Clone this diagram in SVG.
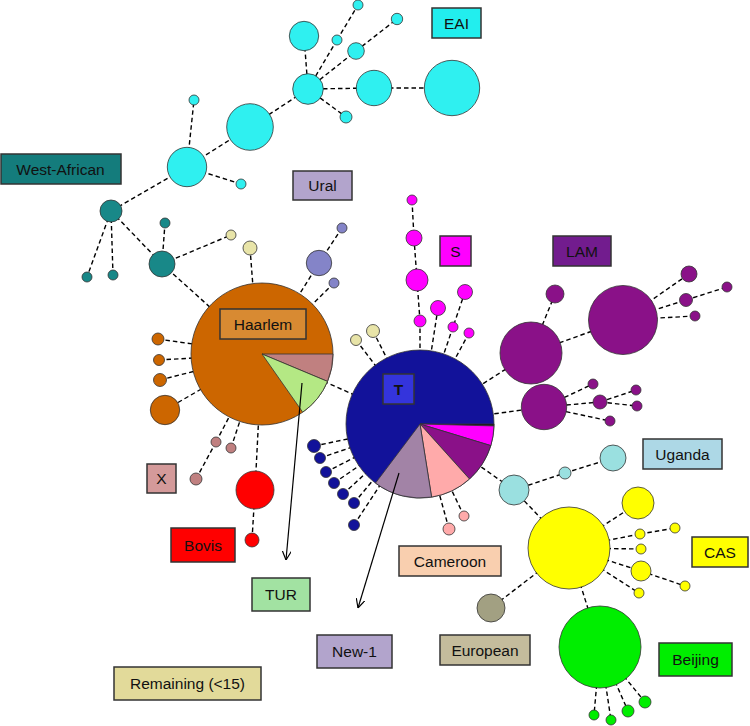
<svg xmlns="http://www.w3.org/2000/svg" width="750" height="726" viewBox="0 0 750 726">
<defs>
<marker id="arr" viewBox="0 0 10 10" refX="10" refY="5" markerWidth="9" markerHeight="9" orient="auto" markerUnits="userSpaceOnUse">
<path d="M0,0 L10,5 L0,10" fill="none" stroke="#000" stroke-width="1.3"/>
</marker>
</defs>
<style>
.e{stroke:#000;stroke-width:1.4;stroke-dasharray:4.5 3;fill:none}
.a{stroke:#000;stroke-width:1.2;fill:none;marker-end:url(#arr)}
circle,.sl{stroke:#333;stroke-width:0.8}
.lb rect{stroke:#333;stroke-width:1.5}
.lb text{font-family:"Liberation Sans",Arial,sans-serif;font-size:15.5px;text-anchor:middle;fill:#111}
.cy{fill:#2ff0f0}.tl{fill:#188888}.or{fill:#cc6600}.xp{fill:#c08080}.tu{fill:#b4e884}
.rd{fill:#ff0000}.nv{fill:#12129a}.nw{fill:#a283a6}.cm{fill:#ffaaaa}.lm{fill:#8a1188}
.mg{fill:#ff00ff}.ug{fill:#9ae0e0}.ye{fill:#ffff00}.gr{fill:#00ee00}.eu{fill:#a2a082}
.rm{fill:#e8e4a8}.ur{fill:#8484c8}
</style>
<rect width="750" height="726" fill="#fff"/>
<g id="connectors">
<line class="e" x1="187" y1="167" x2="250" y2="127"/>
<line class="e" x1="250" y1="127" x2="308" y2="89"/>
<line class="e" x1="308" y1="89" x2="304" y2="36"/>
<line class="e" x1="308" y1="89" x2="337" y2="40"/>
<line class="e" x1="337" y1="40" x2="358" y2="5"/>
<line class="e" x1="308" y1="89" x2="356" y2="51"/>
<line class="e" x1="356" y1="51" x2="397" y2="19"/>
<line class="e" x1="308" y1="89" x2="374" y2="88"/>
<line class="e" x1="374" y1="88" x2="452" y2="88"/>
<line class="e" x1="308" y1="89" x2="346" y2="117"/>
<line class="e" x1="187" y1="167" x2="194" y2="100"/>
<line class="e" x1="187" y1="167" x2="241" y2="184"/>
<line class="e" x1="187" y1="167" x2="111" y2="211"/>
<line class="e" x1="111" y1="211" x2="87" y2="277"/>
<line class="e" x1="111" y1="211" x2="113" y2="275"/>
<line class="e" x1="111" y1="211" x2="162" y2="264"/>
<line class="e" x1="162" y1="264" x2="165" y2="223"/>
<line class="e" x1="162" y1="264" x2="231" y2="235"/>
<line class="e" x1="162" y1="264" x2="262" y2="354"/>
<line class="e" x1="250" y1="248" x2="254" y2="300"/>
<line class="e" x1="319" y1="263" x2="342" y2="228"/>
<line class="e" x1="319" y1="263" x2="262" y2="354"/>
<line class="e" x1="334" y1="283" x2="262" y2="354"/>
<line class="e" x1="158" y1="339" x2="262" y2="354"/>
<line class="e" x1="159" y1="360" x2="262" y2="354"/>
<line class="e" x1="160" y1="380" x2="262" y2="354"/>
<line class="e" x1="165" y1="410" x2="262" y2="354"/>
<line class="e" x1="216" y1="442" x2="196" y2="479"/>
<line class="e" x1="216" y1="442" x2="262" y2="354"/>
<line class="e" x1="231" y1="448" x2="262" y2="354"/>
<line class="e" x1="255" y1="490" x2="262" y2="354"/>
<line class="e" x1="255" y1="490" x2="252" y2="540"/>
<line class="e" x1="262" y1="354" x2="420" y2="424"/>
<line class="e" x1="356" y1="340" x2="420" y2="424"/>
<line class="e" x1="373" y1="331" x2="420" y2="424"/>
<line class="e" x1="412" y1="200" x2="414" y2="238"/>
<line class="e" x1="414" y1="238" x2="417" y2="280"/>
<line class="e" x1="417" y1="280" x2="420" y2="321"/>
<line class="e" x1="420" y1="321" x2="420" y2="424"/>
<line class="e" x1="438" y1="308" x2="420" y2="424"/>
<line class="e" x1="465" y1="292" x2="453" y2="327"/>
<line class="e" x1="453" y1="327" x2="420" y2="424"/>
<line class="e" x1="469" y1="333" x2="420" y2="424"/>
<line class="e" x1="420" y1="424" x2="531" y2="353"/>
<line class="e" x1="531" y1="353" x2="555" y2="294"/>
<line class="e" x1="531" y1="353" x2="623" y2="320"/>
<line class="e" x1="623" y1="320" x2="689" y2="274"/>
<line class="e" x1="623" y1="320" x2="686" y2="300"/>
<line class="e" x1="686" y1="300" x2="727" y2="287"/>
<line class="e" x1="623" y1="320" x2="695" y2="316"/>
<line class="e" x1="420" y1="424" x2="544" y2="407"/>
<line class="e" x1="544" y1="407" x2="593" y2="384"/>
<line class="e" x1="544" y1="407" x2="600" y2="402"/>
<line class="e" x1="600" y1="402" x2="636" y2="390"/>
<line class="e" x1="600" y1="402" x2="637" y2="406"/>
<line class="e" x1="544" y1="407" x2="610" y2="421"/>
<line class="e" x1="420" y1="424" x2="514" y2="490"/>
<line class="e" x1="514" y1="490" x2="565" y2="473"/>
<line class="e" x1="565" y1="473" x2="613" y2="458"/>
<line class="e" x1="514" y1="490" x2="569" y2="548"/>
<line class="e" x1="569" y1="548" x2="638" y2="503"/>
<line class="e" x1="569" y1="548" x2="640" y2="534"/>
<line class="e" x1="640" y1="534" x2="675" y2="528"/>
<line class="e" x1="569" y1="548" x2="641" y2="549"/>
<line class="e" x1="569" y1="548" x2="641" y2="571"/>
<line class="e" x1="641" y1="571" x2="685" y2="586"/>
<line class="e" x1="569" y1="548" x2="639" y2="593"/>
<line class="e" x1="569" y1="548" x2="491" y2="608"/>
<line class="e" x1="569" y1="548" x2="600" y2="647"/>
<line class="e" x1="600" y1="647" x2="594" y2="715"/>
<line class="e" x1="600" y1="647" x2="611" y2="720"/>
<line class="e" x1="600" y1="647" x2="628" y2="711"/>
<line class="e" x1="600" y1="647" x2="645" y2="702"/>
<line class="e" x1="314" y1="446" x2="420" y2="424"/>
<line class="e" x1="320" y1="458" x2="420" y2="424"/>
<line class="e" x1="326" y1="472" x2="420" y2="424"/>
<line class="e" x1="334" y1="483" x2="420" y2="424"/>
<line class="e" x1="343" y1="494" x2="420" y2="424"/>
<line class="e" x1="354" y1="503" x2="420" y2="424"/>
<line class="e" x1="354" y1="525" x2="420" y2="424"/>
<line class="e" x1="449" y1="529" x2="420" y2="424"/>
<line class="e" x1="464" y1="516" x2="420" y2="424"/>
</g>
<g id="eai">
<circle class="cy" cx="358" cy="5" r="5"/>
<circle class="cy" cx="397" cy="19" r="5.7"/>
<circle class="cy" cx="304" cy="36" r="14.7"/>
<circle class="cy" cx="337" cy="40" r="5"/>
<circle class="cy" cx="356" cy="51" r="8.3"/>
<circle class="cy" cx="308" cy="89" r="15.3"/>
<circle class="cy" cx="374" cy="88" r="17.7"/>
<circle class="cy" cx="452" cy="88" r="27.7"/>
<circle class="cy" cx="346" cy="117" r="6"/>
<circle class="cy" cx="250" cy="127" r="23.3"/>
<circle class="cy" cx="194" cy="100" r="5"/>
<circle class="cy" cx="187" cy="167" r="19.7"/>
<circle class="cy" cx="241" cy="184" r="5"/>
</g>
<g id="west-african">
<circle class="tl" cx="111" cy="211" r="11"/>
<circle class="tl" cx="165" cy="223" r="5"/>
<circle class="tl" cx="162" cy="264" r="13"/>
<circle class="tl" cx="87" cy="277" r="5"/>
<circle class="tl" cx="113" cy="275" r="5"/>
</g>
<g id="remaining">
<circle class="rm" cx="231" cy="235" r="5"/>
<circle class="rm" cx="250" cy="248" r="7"/>
<circle class="rm" cx="356" cy="340" r="5.5"/>
<circle class="rm" cx="373" cy="331" r="6.5"/>
</g>
<g id="ural">
<circle class="ur" cx="319" cy="263" r="12.7"/>
<circle class="ur" cx="342" cy="228" r="5"/>
<circle class="ur" cx="334" cy="283" r="5"/>
</g>
<g id="haarlem">
<circle class="or" cx="262" cy="354" r="71"/>
<path class="sl xp" d="M262,354 L333,354 A71,71 0 0 1 327.5,381.4 Z"/>
<path class="sl tu" d="M262,354 L327.5,381.4 A71,71 0 0 1 302.7,412.2 Z"/>
<circle class="or" cx="158" cy="339" r="6"/>
<circle class="or" cx="159" cy="360" r="5.5"/>
<circle class="or" cx="160" cy="380" r="6.5"/>
<circle class="or" cx="165" cy="410" r="14.7"/>
</g>
<g id="x">
<circle class="xp" cx="216" cy="442" r="5"/>
<circle class="xp" cx="231" cy="448" r="5"/>
<circle class="xp" cx="196" cy="479" r="6"/>
</g>
<g id="bovis">
<circle class="rd" cx="255" cy="490" r="19"/>
<circle class="rd" cx="252" cy="540" r="7"/>
</g>
<g id="s">
<circle class="mg" cx="412" cy="200" r="5"/>
<circle class="mg" cx="414" cy="238" r="8"/>
<circle class="mg" cx="417" cy="280" r="11"/>
<circle class="mg" cx="420" cy="321" r="6"/>
<circle class="mg" cx="438" cy="308" r="7.5"/>
<circle class="mg" cx="453" cy="327" r="5"/>
<circle class="mg" cx="465" cy="292" r="7.5"/>
<circle class="mg" cx="469" cy="333" r="5"/>
</g>
<g id="t">
<circle class="nv" cx="420" cy="424" r="74"/>
<path class="sl" fill="#111" d="M420,424 L494,424 A74,74 0 0 1 493.97,425.94 Z"/>
<path class="sl mg" d="M420,424 L493.97,425.94 A74,74 0 0 1 490.8,445.6 Z"/>
<path class="sl lm" d="M420,424 L490.8,445.6 A74,74 0 0 1 469.5,479 Z"/>
<path class="sl cm" d="M420,424 L469.5,479 A74,74 0 0 1 431.6,497.1 Z"/>
<path class="sl nw" d="M420,424 L431.6,497.1 A74,74 0 0 1 375.5,483.1 Z"/>
<circle class="nv" cx="314" cy="446" r="6.5"/>
<circle class="nv" cx="320" cy="458" r="5.5"/>
<circle class="nv" cx="326" cy="472" r="5.5"/>
<circle class="nv" cx="334" cy="483" r="5.5"/>
<circle class="nv" cx="343" cy="494" r="5.5"/>
<circle class="nv" cx="354" cy="503" r="5.5"/>
<circle class="nv" cx="354" cy="525" r="5.5"/>
</g>
<g id="cameroon">
<circle class="cm" cx="449" cy="529" r="6"/>
<circle class="cm" cx="464" cy="516" r="5"/>
</g>
<g id="lam">
<circle class="lm" cx="623" cy="320" r="34.5"/>
<circle class="lm" cx="531" cy="353" r="31"/>
<circle class="lm" cx="544" cy="407" r="22.7"/>
<circle class="lm" cx="555" cy="294" r="9"/>
<circle class="lm" cx="689" cy="274" r="8"/>
<circle class="lm" cx="686" cy="300" r="6.5"/>
<circle class="lm" cx="695" cy="316" r="5"/>
<circle class="lm" cx="727" cy="287" r="5"/>
<circle class="lm" cx="593" cy="384" r="5"/>
<circle class="lm" cx="600" cy="402" r="7"/>
<circle class="lm" cx="636" cy="390" r="5"/>
<circle class="lm" cx="637" cy="406" r="5"/>
<circle class="lm" cx="610" cy="421" r="5"/>
</g>
<g id="uganda">
<circle class="ug" cx="514" cy="490" r="15"/>
<circle class="ug" cx="565" cy="473" r="6"/>
<circle class="ug" cx="613" cy="458" r="13"/>
</g>
<g id="cas">
<circle class="ye" cx="569" cy="548" r="41"/>
<circle class="ye" cx="638" cy="503" r="16"/>
<circle class="ye" cx="640" cy="534" r="5"/>
<circle class="ye" cx="675" cy="528" r="5"/>
<circle class="ye" cx="641" cy="549" r="5"/>
<circle class="ye" cx="641" cy="571" r="10"/>
<circle class="ye" cx="685" cy="586" r="5"/>
<circle class="ye" cx="639" cy="593" r="5"/>
</g>
<g id="european">
<circle class="eu" cx="491" cy="608" r="14"/>
</g>
<g id="beijing">
<circle class="gr" cx="600" cy="647" r="41"/>
<circle class="gr" cx="594" cy="715" r="5"/>
<circle class="gr" cx="611" cy="720" r="5"/>
<circle class="gr" cx="628" cy="711" r="6"/>
<circle class="gr" cx="645" cy="702" r="6"/>
</g>
<g id="arrows">
<line class="a" x1="302" y1="383" x2="286" y2="560"/>
<line class="a" x1="399" y1="473" x2="358" y2="608"/>
</g>
<g id="labels" class="lb">
<g id="lbl-eai"><rect x="432" y="8" width="49" height="30" fill="#22eeee"/><text x="456.5" y="28.5">EAI</text></g>
<g id="lbl-wa"><rect x="1" y="154" width="120" height="30" fill="#147c7c"/><text x="60.5" y="174.5">West-African</text></g>
<g id="lbl-ural"><rect x="293" y="171" width="59" height="29" fill="#b2a4cc"/><text x="322.5" y="191">Ural</text></g>
<g id="lbl-s"><rect x="440" y="236" width="31" height="30" fill="#ff00ff"/><text x="455.5" y="256.5">S</text></g>
<g id="lbl-lam"><rect x="553" y="236" width="58" height="30" fill="#721c8e"/><text x="582" y="256.5">LAM</text></g>
<g id="lbl-haarlem"><rect x="220" y="309" width="86" height="30" fill="#d88a32"/><text x="263" y="329.5">Haarlem</text></g>
<g id="lbl-t"><rect x="383" y="374" width="31" height="30" fill="#3434dc"/><text x="398.5" y="394.5" font-weight="bold">T</text></g>
<g id="lbl-uganda"><rect x="643" y="439" width="79" height="30" fill="#add8e6"/><text x="682.5" y="459.5">Uganda</text></g>
<g id="lbl-x"><rect x="147" y="464" width="29" height="29" fill="#d49a9a"/><text x="161.5" y="484">X</text></g>
<g id="lbl-bovis"><rect x="171" y="528" width="64" height="34" fill="#ff0000"/><text x="203" y="550.5">Bovis</text></g>
<g id="lbl-cas"><rect x="692" y="537" width="56" height="30" fill="#ffff00"/><text x="720" y="557.5">CAS</text></g>
<g id="lbl-cameroon"><rect x="399" y="546" width="102" height="30" fill="#f9cfaf"/><text x="450" y="566.5">Cameroon</text></g>
<g id="lbl-tur"><rect x="252" y="578" width="58" height="33" fill="#a2e2a2"/><text x="281" y="600">TUR</text></g>
<g id="lbl-new1"><rect x="317" y="635" width="75" height="33" fill="#b2a4cc"/><text x="354.5" y="657">New-1</text></g>
<g id="lbl-european"><rect x="440" y="635" width="90" height="30" fill="#c4bc9c"/><text x="485" y="655.5">European</text></g>
<g id="lbl-beijing"><rect x="659" y="643" width="73" height="33" fill="#00ee00"/><text x="695.5" y="665">Beijing</text></g>
<g id="lbl-remaining"><rect x="114" y="667" width="147" height="33" fill="#e2da9a"/><text x="187.5" y="689">Remaining (&lt;15)</text></g>
</g>
</svg>
